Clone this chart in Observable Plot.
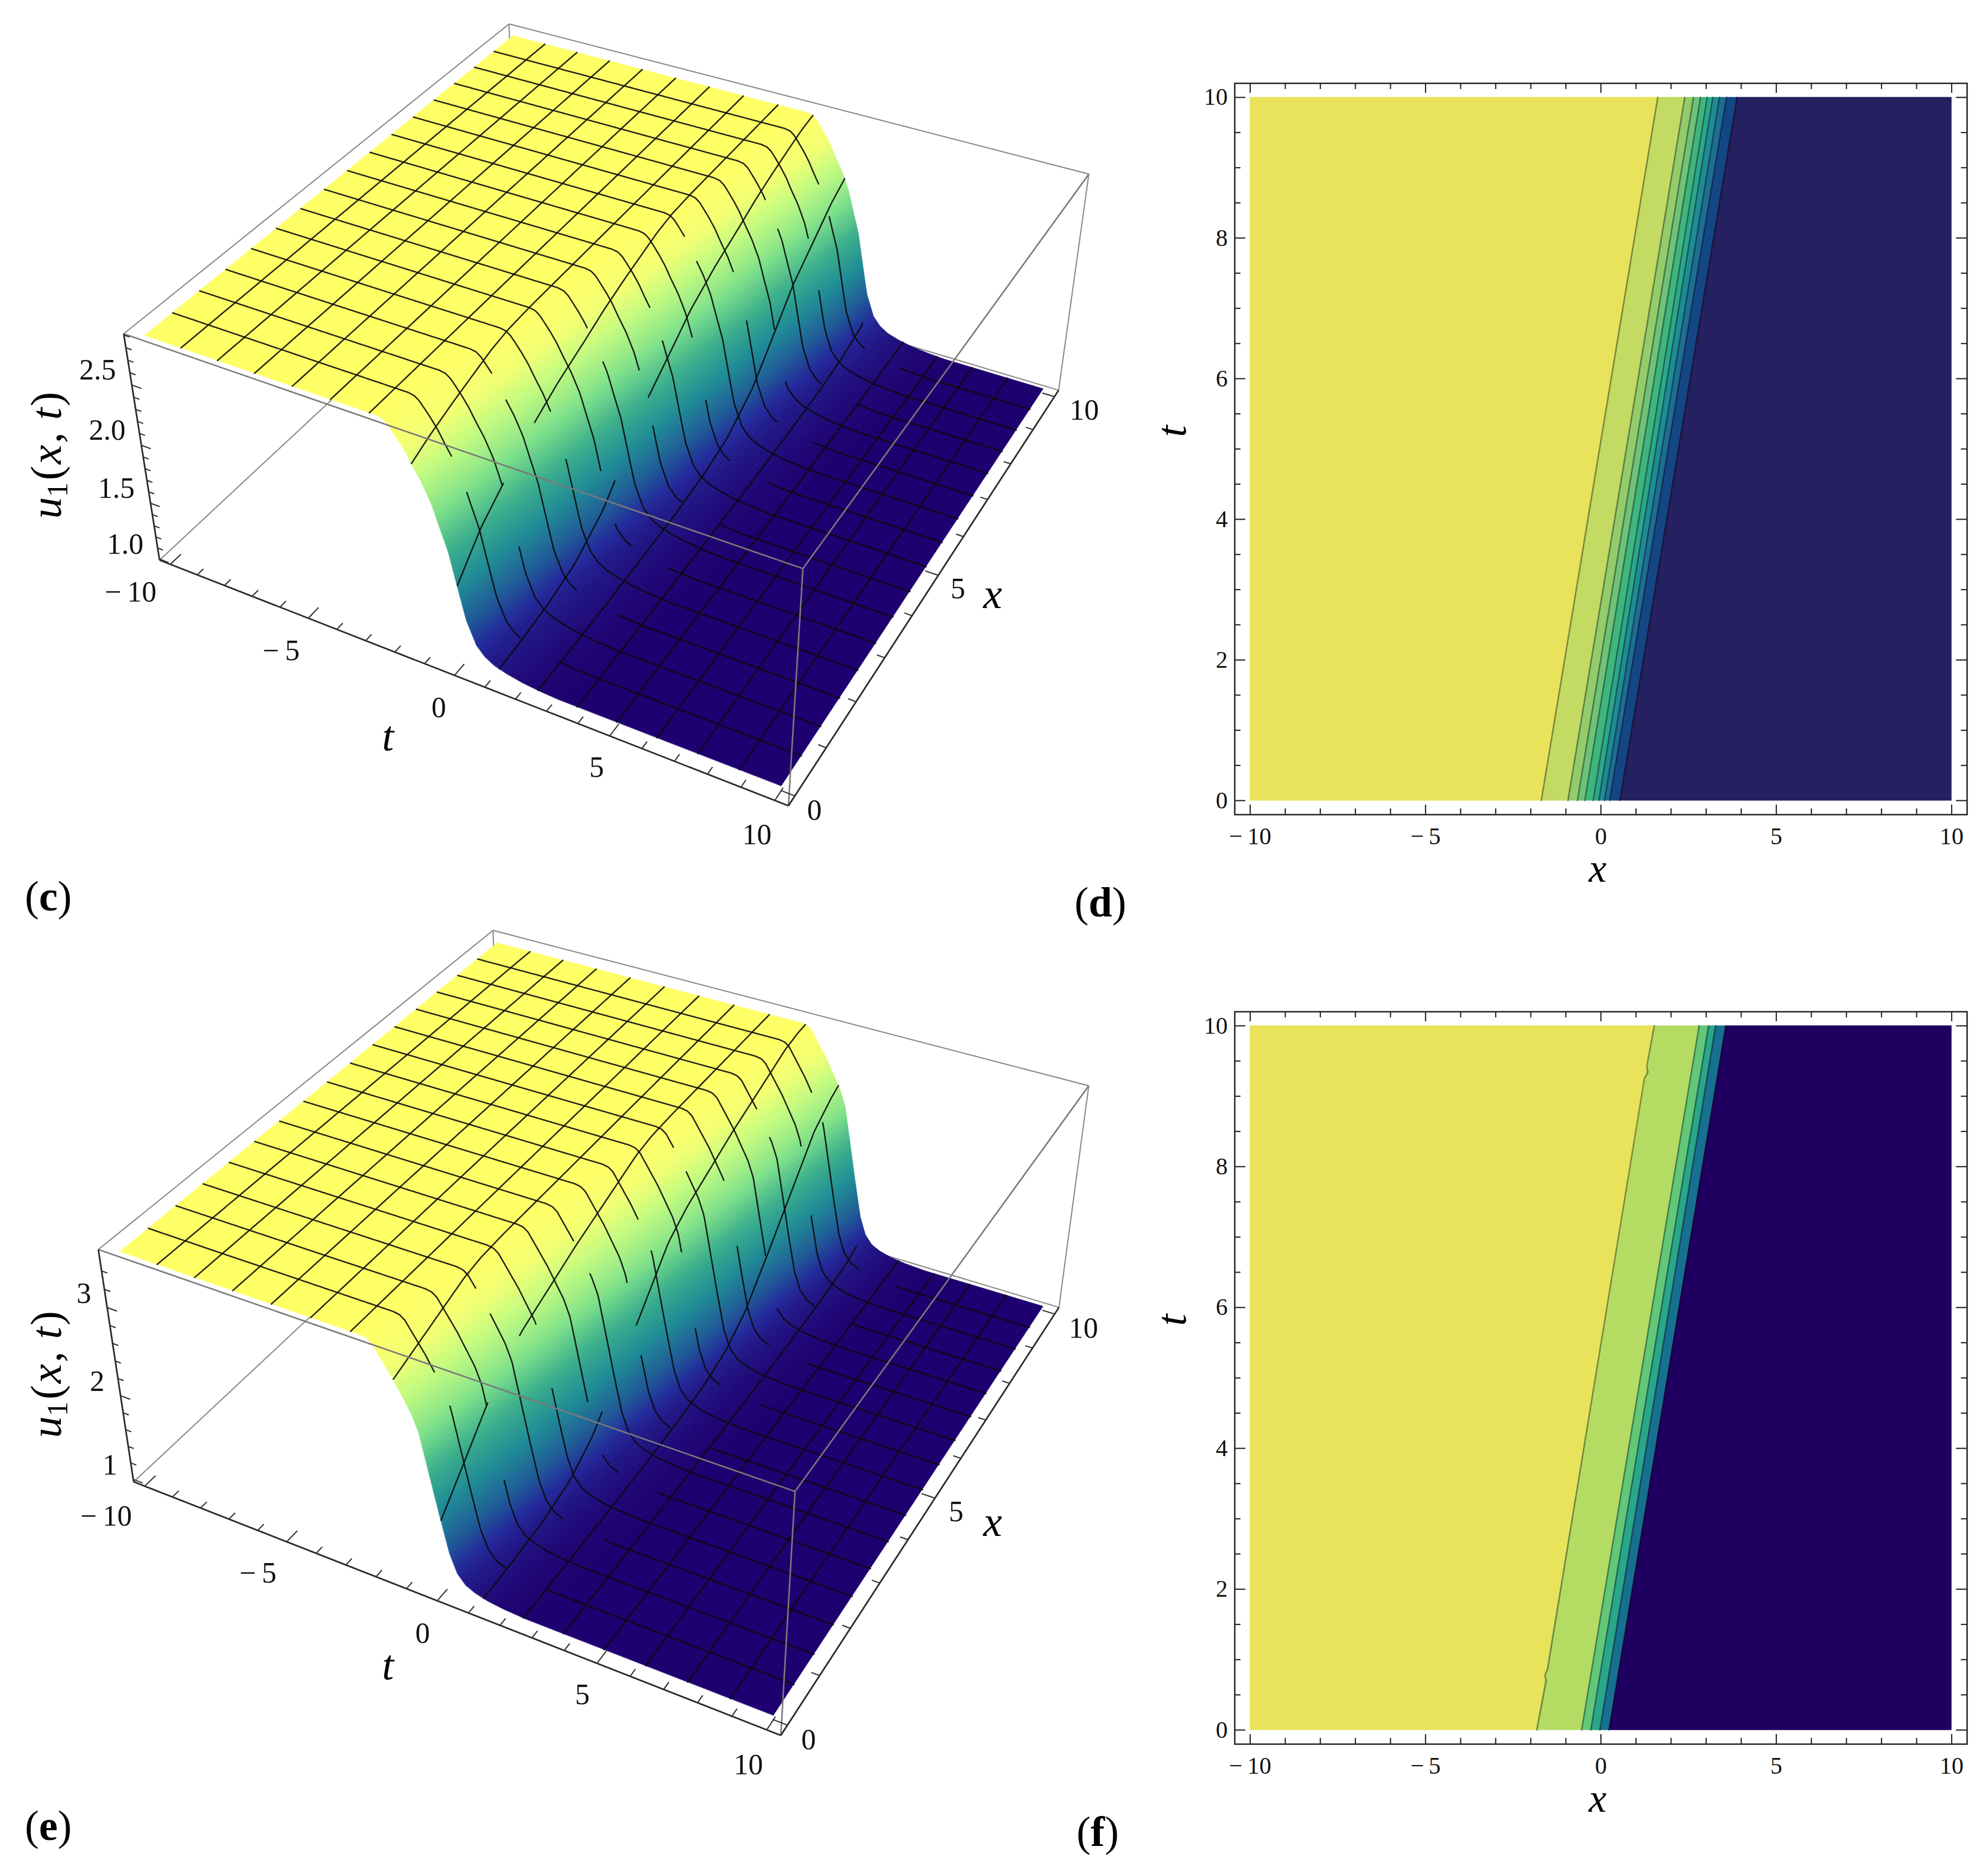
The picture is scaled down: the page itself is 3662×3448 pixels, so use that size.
<!DOCTYPE html>
<html>
<head>
<meta charset="utf-8">
<script src="https://cdn.jsdelivr.net/npm/d3@7"></script>
<script src="https://cdn.jsdelivr.net/npm/@observablehq/plot@0.6"></script>
<style>
html,body{margin:0;padding:0;background:#fff}
#root{position:relative;width:3662px;height:3448px;overflow:hidden;background:#fff}
.plab{position:absolute;font-family:"Liberation Serif",serif;font-size:78px;line-height:1;color:#000;transform:translate(-50%,-50%)}
</style>
</head>
<body>
<div id="root"></div>
<script>
// ---------- shared axis values ----------
const spaceTicks = d3.range(-10, 11);          // x (long axis) every 1
const spaceMajor = [-10, -5, 0, 5, 10];
const timeTicks3D = d3.range(0, 11);
const timeMajor3D = [0, 5, 10];
const timeTicks2D = d3.range(0, 10.5, 0.5);
const timeMajor2D = [0, 2, 4, 6, 8, 10];
const meshSpace = d3.range(1, 16).map(i => -10 + i * 1.25);
const meshTime = d3.range(1, 16).map(i => i * 0.625);

// ---------- panel (d) contour bands, x of each boundary at t=0 and t=10 ----------
const dBottom = [-1.70, -0.94, -0.67, -0.46, -0.22, -0.06, 0.10, 0.25, 0.54];
const dTop = [1.62, 2.39, 2.64, 2.84, 3.03, 3.19, 3.38, 3.58, 3.88];
const dColors = ["#e8e35a", "#c3da63", "#94cc6c", "#6fc277", "#3eb67d", "#2ca88a", "#1d8d95", "#1e6e92", "#144685", "#25205f"];
// ---------- panel (f) contour bands ----------
const fBottom = [-1.83, -0.55, -0.29, -0.03, 0.23];
const fTop = [1.52, 2.80, 3.07, 3.27, 3.56];
const fColors = ["#e8e35a", "#b4dc63", "#62c878", "#2aa68a", "#177090", "#1f0060"];
// small kinks seen on the first boundary of (f): t, sideways shift in x
const fKinks = [[0.70, 0.035], [0.78, -0.03], [0.86, 0.02], [9.25, -0.03], [9.34, 0.04], [9.42, -0.02]];

// ---------- surface profiles: phase (x at t=0) and normalised height ----------
const cPhase = [-14, -2.3, -2.1, -1.95, -1.8, -1.6, -1.4, -1.2, -0.94, -0.67, -0.46, -0.22, -0.06, 0.1, 0.25, 0.54, 0.8, 1.1, 1.5, 2, 2.6, 3.2, 10];
const cHeight = [1, 1, 0.995, 0.98, 0.955, 0.92, 0.88, 0.83, 0.77, 0.69, 0.6, 0.5, 0.4, 0.3, 0.21, 0.11, 0.07, 0.045, 0.028, 0.014, 0.005, 0, 0];
const ePhase = [-14, -2.2, -2, -1.85, -1.7, -1.5, -1.25, -1, -0.75, -0.55, -0.29, -0.03, 0.23, 0.45, 0.7, 1, 1.4, 1.9, 2.6, 10];
const eHeight = [1, 1, 0.995, 0.98, 0.95, 0.91, 0.86, 0.8, 0.74, 0.67, 0.5, 0.33, 0.17, 0.09, 0.05, 0.03, 0.015, 0.006, 0, 0];
const waveSpeed = 0.334;

// ---------- where mesh lines are lost in the surface (phase intervals) ----------
const timeLineGaps = [[-1.0, -0.6], [-0.4, 0.05], [-1.6, -1.2], [-0.7, -0.25], [0.0, 0.45], [-1.3, -0.85], [-0.5, -0.05]];
const spaceLineGaps = [[-0.2, 0.12], [-1.25, -0.98], [0.22, 0.5], [-0.72, -0.45]];
const floorGap = [1.0, 2.3];

// ---------- surface colour ----------
const heightStops = [0, 0.03, 0.1, 0.2, 0.35, 0.5, 0.65, 0.8, 0.9, 1];
const heightColors = ["#1f0070", "#20107f", "#22289a", "#1f5a97", "#1f8b96", "#3aae8c", "#7de08a", "#c4fb80", "#f3ff72", "#ffff66"];

// ---------- calibration of the box corners of each 3D view (A,B,U in box units → page px) ----------
const cCorners = [[0,1,1,937,44],[0,0,1,228,613],[1,1,1,2006,320],[1,0,1,1477,1048],[0,0,0,293,1032],[1,0,0,1453,1483],[1,1,0,1949,718]];
const eCorners = [[0,1,1,908,1713],[0,0,1,181,2302],[1,1,1,2006,1999],[1,0,1,1462,2746],[0,0,0,245,2728],[1,0,0,1440,3196],[1,1,0,1949,2408]];

const serif = '"Liberation Serif", serif';
const root = document.getElementById("root");
const minus = v => v < 0 ? "\u2212\u2009" + Math.abs(v) : String(v);

function solveCamera(corners) {
  const rows = [], rhs = [];
  for (const [A, B, U, X0, Y0] of corners) {
    const X = X0 / 1000, Y = Y0 / 1000;
    rows.push([A, B, U, 1, 0, 0, 0, 0, -X * A, -X * B, -X * U]); rhs.push(X);
    rows.push([0, 0, 0, 0, A, B, U, 1, -Y * A, -Y * B, -Y * U]); rhs.push(Y);
  }
  const n = 11;
  const M = d3.range(n).map(i => {
    const r = d3.range(n).map(j => d3.sum(rows, q => q[i] * q[j]));
    r.push(d3.sum(rows, (q, k) => q[i] * rhs[k]));
    return r;
  });
  for (let i = 0; i < n; i++) {
    let p = i;
    for (let k = i + 1; k < n; k++) if (Math.abs(M[k][i]) > Math.abs(M[p][i])) p = k;
    [M[i], M[p]] = [M[p], M[i]];
    for (let k = 0; k < n; k++) if (k !== i) {
      const f = M[k][i] / M[i][i];
      for (let j = i; j <= n; j++) M[k][j] -= f * M[i][j];
    }
  }
  const P = M.map((r, i) => r[n] / r[i]);
  return (A, B, U) => {
    const w = P[8] * A + P[9] * B + P[10] * U + 1;
    return [1000 * (P[0] * A + P[1] * B + P[2] * U + P[3]) / w, 1000 * (P[4] * A + P[5] * B + P[6] * U + P[7]) / w];
  };
}

function surfacePanel(cfg) {
  const cam = solveCamera(cfg.corners);
  const toU = u => (u - cfg.uRange[0]) / (cfg.uRange[1] - cfg.uRange[0]);
  const proj = (a, b, U) => cam((a + 10.4) / 20.8, (b + 0.2) / 10.4, U);
  const hgt = d3.scaleLinear(cfg.phase, cfg.height).clamp(true);
  const surfU = v => toU(cfg.uSurf[0] + v * (cfg.uSurf[1] - cfg.uSurf[0]));
  const clampA = a => Math.max(-10, Math.min(10, a));

  // strips of constant height, far to near
  const phases = [];
  for (let i = 0; i + 1 < cfg.phase.length; i++) {
    const n = (cfg.phase[i + 1] - cfg.phase[i]) > 3 ? 1 : 8;
    for (let k = 0; k < n; k++) phases.push(cfg.phase[i] + (cfg.phase[i + 1] - cfg.phase[i]) * k / n);
  }
  phases.push(cfg.phase[cfg.phase.length - 1]);
  const strips = [];
  const bSteps = d3.range(0, 10.01, 0.25);
  for (let i = 0; i + 1 < phases.length; i++) {
    const v = hgt((phases[i] + phases[i + 1]) / 2);
    for (const b of bSteps) {
      const p1 = proj(clampA(phases[i] + waveSpeed * b), b, surfU(hgt(phases[i])));
      const p2 = proj(clampA(phases[i + 1] + waveSpeed * b), b, surfU(hgt(phases[i + 1])));
      strips.push({id: i, v, x1: p1[0], y1: p1[1], x2: p2[0], y2: p2[1]});
    }
  }
  // mesh lines, broken where the reference loses them in the surface
  const inGap = (ph, g) => g && ph > g[0] && ph < g[1];
  const mesh = [];
  meshSpace.forEach((a, i) => {
    const g = spaceLineGaps[i % spaceLineGaps.length];
    for (const b of d3.range(0, 10.001, 0.08)) {
      const ph = a - waveSpeed * b;
      const p = proj(a, b, surfU(hgt(ph)));
      mesh.push({id: "a" + a, x: p[0], y: inGap(ph, g) ? NaN : p[1]});
    }
  });
  meshTime.forEach((b, i) => {
    const g = timeLineGaps[i % timeLineGaps.length];
    for (const a of d3.range(-10, 10.001, 0.04)) {
      const ph = a - waveSpeed * b;
      const p = proj(a, b, surfU(hgt(ph)));
      const hide = inGap(ph, g) || (i % 2 === 0 && inGap(ph, floorGap));
      mesh.push({id: "b" + b, x: p[0], y: hide ? NaN : p[1]});
    }
  });
  const edge = (c1, c2) => { const p = cam(...c1), q = cam(...c2); return {x1: p[0], y1: p[1], x2: q[0], y2: q[1]}; };
  const backEdges = [
    edge([0,0,0],[0,1,0]), edge([0,1,0],[1,1,0]), edge([0,1,0],[0,1,1]),
    edge([0,0,1],[0,1,1]), edge([0,1,1],[1,1,1]), edge([1,1,1],[1,1,0])
  ];
  const frontEdges = [edge([0,0,1],[1,0,1]), edge([1,0,1],[1,1,1]), edge([1,0,1],[1,0,0])];
  const axisEdges = [edge([0,0,1],[0,0,0]), edge([0,0,0],[1,0,0]), edge([1,0,0],[1,1,0])];

  const link = (p, q) => ({x1: p[0], y1: p[1], x2: q[0], y2: q[1]});
  const ticks = [];
  for (const a of spaceTicks) {
    const len = spaceMajor.includes(a) ? 0.26 : 0.15;
    ticks.push(link(proj(a, -0.2, 0), proj(a, -0.2 + len, 0)));
  }
  for (const b of timeTicks3D) {
    const len = timeMajor3D.includes(b) ? 0.42 : 0.24;
    ticks.push(link(proj(10.4, b, 0), proj(10.4 - len, b, 0)));
  }
  for (const u of cfg.uTicks) {
    const len = cfg.uMajor.includes(u) ? 0.34 : 0.2;
    ticks.push(link(proj(-10.4, -0.2, toU(u)), proj(-10.4 + len, -0.2, toU(u))));
  }
  const aLabels = spaceMajor.map((a, i) => { const p = proj(a, -0.2, 0); return {x: p[0] + cfg.aDx[i], y: p[1] + cfg.aDy[i], s: minus(a)}; });
  const bLabels = timeMajor3D.map((b, i) => { const p = proj(10.4, b, 0); return {x: p[0] + cfg.bDx[i], y: p[1] + cfg.bDy[i], s: String(b)}; });
  const uLabels = cfg.uMajor.map(u => { const p = proj(-10.4, -0.2, toU(u)); return {x: p[0] + cfg.uOff[0], y: p[1] + cfg.uOff[1], s: cfg.uFormat(u)}; });

  const W = cfg.box[0], [y0, y1] = [cfg.box[1], cfg.box[2]];
  const plot = Plot.plot({
    width: W, height: y1 - y0, margin: 0,
    x: {domain: [0, W], range: [0, W], axis: null},
    y: {domain: [y0, y1], range: [0, y1 - y0], axis: null},
    color: {type: "linear", domain: heightStops, range: heightColors},
    style: {position: "absolute", left: "0px", top: y0 + "px", background: "transparent", overflow: "visible"},
    marks: [
      Plot.link(backEdges, {x1: "x1", y1: "y1", x2: "x2", y2: "y2", stroke: "#8a8a8a", strokeWidth: 2.2}),
      Plot.area(strips, {x1: "x1", y1: "y1", x2: "x2", y2: "y2", z: "id", fill: "v", stroke: "v", strokeWidth: 0.8}),
      Plot.line(mesh, {x: "x", y: "y", z: "id", stroke: "#0a0a0a", strokeWidth: 2.6, strokeOpacity: 0.9, curve: "linear"}),
      Plot.link(frontEdges, {x1: "x1", y1: "y1", x2: "x2", y2: "y2", stroke: "#7a7a7a", strokeWidth: 2.8}),
      Plot.link(axisEdges, {x1: "x1", y1: "y1", x2: "x2", y2: "y2", stroke: "#2b2b2b", strokeWidth: 3}),
      Plot.link(ticks, {x1: "x1", y1: "y1", x2: "x2", y2: "y2", stroke: "#333", strokeWidth: 2.2}),
      Plot.text(aLabels.concat(bLabels, uLabels), {x: "x", y: "y", text: "s", fontSize: 54, fontFamily: serif, fill: "#111", textAnchor: "middle", lineAnchor: "middle"}),
      Plot.text([{x: cfg.tPos[0], y: cfg.tPos[1], s: "t"}, {x: cfg.xPos[0], y: cfg.xPos[1], s: "x"}], {x: "x", y: "y", text: "s", fontSize: 78, fontStyle: "italic", fontFamily: serif, fill: "#000", textAnchor: "middle", lineAnchor: "middle"}),
      Plot.text([{x: cfg.uPos[0], y: cfg.uPos[1], s: "u1(x, t)"}], {x: "x", y: "y", text: "s", rotate: -90, fontSize: 80, fontFamily: serif, fill: "#000", textAnchor: "middle", lineAnchor: "middle", className: "ulab"})
    ]
  });
  const t = plot.querySelector(".ulab text");
  if (t) t.innerHTML = '<tspan font-style="italic">u</tspan><tspan font-size="54" dy="12">1</tspan><tspan dy="-12" dx="4">(</tspan><tspan font-style="italic" dx="3">x</tspan><tspan dx="3">, </tspan><tspan font-style="italic" dx="3">t</tspan><tspan dx="3">)</tspan>';
  root.appendChild(plot);
}

function contourPanel(cfg) {
  const yMin = -0.2, yMax = 10.2, xMin = -10.44, xMax = 10.44;
  const left = [-10, ...cfg.bottom], right = [...cfg.bottom, 10];
  const leftT = [-10, ...cfg.top], rightT = [...cfg.top, 10];
  const bands = [];
  cfg.colors.forEach((c, i) => {
    bands.push({band: i, color: c, t: 0, x1: left[i], x2: right[i]});
    bands.push({band: i, color: c, t: 10, x1: leftT[i], x2: rightT[i]});
  });
  const bounds = [];
  cfg.bottom.forEach((x, i) => {
    bounds.push({id: i, t: 0, x});
    if (i === 0 && cfg.kinks) for (const [t, dx] of cfg.kinks) bounds.push({id: i, t, x: x + (cfg.top[i] - x) * t / 10 + dx});
    bounds.push({id: i, t: 10, x: cfg.top[i]});
  });
  const H = cfg.frameBottom - cfg.top0 + 180;
  const kx = 64.85, ky = (cfg.frameBottom - cfg.frameTop) / 10.4;
  const xLen = v => (spaceMajor.includes(v) ? 18 : 11) / ky;
  const yLen = v => (timeMajor2D.includes(v) ? 20 : 11) / kx;
  const tk = {stroke: "#222", strokeWidth: 2.2};
  root.appendChild(Plot.plot({
    width: 1562, height: H,
    marginLeft: 174, marginRight: 39, marginTop: cfg.frameTop - cfg.top0, marginBottom: 180,
    x: {domain: [xMin, xMax]}, y: {domain: [yMin, yMax]},
    color: {type: "identity"},
    style: {position: "absolute", left: "2100px", top: cfg.top0 + "px", background: "transparent", overflow: "visible"},
    marks: [
      Plot.areaX(bands, {x1: "x1", x2: "x2", y: "t", z: "band", fill: "color", stroke: "color", strokeWidth: 0.6}),
      Plot.line(bounds, {x: "x", y: "t", z: "id", stroke: "#000", strokeOpacity: 0.38, strokeWidth: 2.8}),
      Plot.ruleX(spaceTicks, {x: d => d, y1: yMin, y2: d => yMin + xLen(d), ...tk}),
      Plot.ruleX(spaceTicks, {x: d => d, y1: yMax, y2: d => yMax - xLen(d), ...tk}),
      Plot.ruleY(timeTicks2D, {y: d => d, x1: xMin, x2: d => xMin + yLen(d), ...tk}),
      Plot.ruleY(timeTicks2D, {y: d => d, x1: xMax, x2: d => xMax - yLen(d), ...tk}),
      Plot.frame({stroke: "#222", strokeWidth: 2.6}),
      Plot.axisX(spaceMajor, {anchor: "bottom", tickSize: 0, tickPadding: 23, tickFormat: minus, label: null, fontSize: 44, fontFamily: serif, fill: "#111"}),
      Plot.axisY(timeMajor2D, {anchor: "left", tickSize: 0, tickPadding: 13, tickFormat: d => String(d), label: null, fontSize: 44, fontFamily: serif, fill: "#111"}),
      Plot.text(["x"], {frameAnchor: "bottom", dx: -6, dy: cfg.xDy, fontSize: 74, fontStyle: "italic", fontFamily: serif, fill: "#000", lineAnchor: "middle"}),
      Plot.text(["t"], {frameAnchor: "left", dx: -115, dy: cfg.tDy, rotate: -90, fontSize: 78, fontStyle: "italic", fontFamily: serif, fill: "#000", lineAnchor: "middle"})
    ]
  }));
}

surfacePanel({
  corners: cCorners, phase: cPhase, height: cHeight, box: [2200, 0, 1720],
  uRange: [0.99, 2.91], uSurf: [1.03, 2.87],
  uTicks: d3.range(10, 30).map(d => d / 10), uMajor: [1, 1.5, 2, 2.5], uFormat: d => d.toFixed(1),
  aDx: [-73, -50, -29, -24, -33], aDy: [51, 60, 60, 58, 63],
  bDx: [36, 36, 55], bDy: [27, 25, 25], uOff: [-63, -27],
  tPos: [714, 1357], xPos: [1828, 1095], uPos: [86, 838]
});
surfacePanel({
  corners: eCorners, phase: ePhase, height: eHeight, box: [2200, 1700, 3448],
  uRange: [0.97, 3.63], uSurf: [1.02, 3.57],
  uTicks: d3.range(5, 18).map(d => d / 5), uMajor: [1, 2, 3], uFormat: d => String(d),
  aDx: [-71, -53, -27, -27, -34], aDy: [56, 58, 60, 58, 65],
  bDx: [39, 39, 53], bDy: [27, 25, 27], uOff: [-43, -26],
  tPos: [714, 3068], xPos: [1828, 2804], uPos: [86, 2531]
});
contourPanel({bottom: dBottom, top: dTop, colors: dColors, top0: 100, frameTop: 153, frameBottom: 1500, xDy: 100, tDy: -22});
contourPanel({bottom: fBottom, top: fTop, kinks: fKinks, colors: fColors, top0: 1810, frameTop: 1863, frameBottom: 3212, xDy: 101, tDy: -96});

[["c", 89, 1651], ["d", 2027, 1662], ["e", 89, 3363], ["f", 2022, 3374]].forEach(([s, x, y]) => {
  const el = document.createElement("div");
  el.className = "plab";
  el.style.left = x + "px"; el.style.top = y + "px";
  el.innerHTML = "(<b>" + s + "</b>)";
  root.appendChild(el);
});
</script>
</body>
</html>
